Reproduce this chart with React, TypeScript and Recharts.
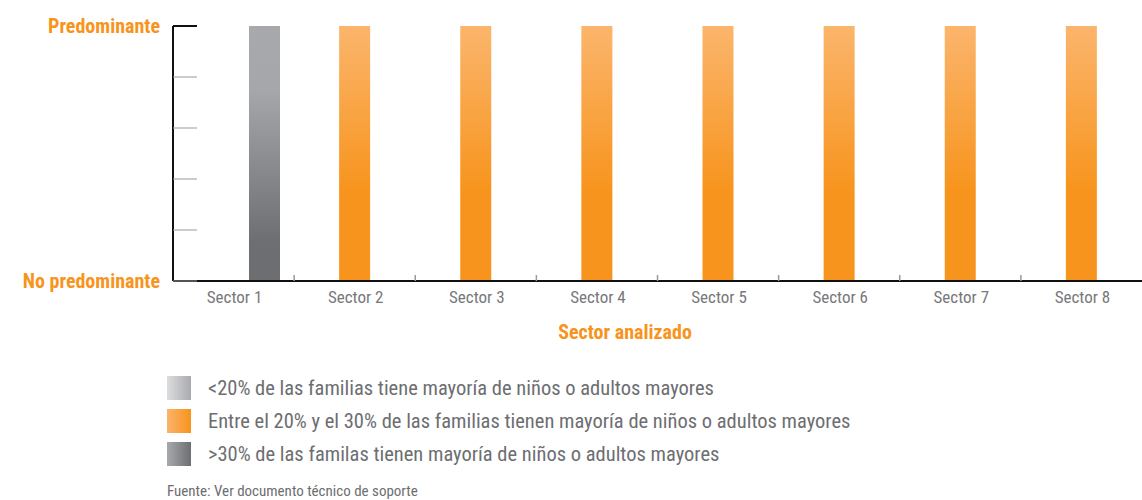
import { BarChart, Bar, XAxis, YAxis } from 'recharts';

const sectors = ['Sector 1', 'Sector 2', 'Sector 3', 'Sector 4', 'Sector 5', 'Sector 6', 'Sector 7', 'Sector 8'];
// 1 = predominante, 0 = no predominante
const bajo = [0, 0, 0, 0, 0, 0, 0, 0];
const medio = [0, 1, 1, 1, 1, 1, 1, 1];
const alto = [1, 0, 0, 0, 0, 0, 0, 0];
const yTicks = [0, 0.2, 0.4, 0.6, 0.8, 1];
const yTickLabels = ['No predominante', '', '', '', '', 'Predominante'];
const seriesNames = [
  '<20% de las familias tiene mayoría de niños o adultos mayores',
  'Entre el 20% y el 30% de las familias tienen mayoría de niños o adultos mayores',
  '>30% de las familas tienen mayoría de niños o adultos mayores',
];

const W = 1142;
const H = 500;
const LEFT = 173;
const TOP = 26;
const AXIS_Y = 281;
const BAND = (W - LEFT) / sectors.length;

const ORANGE = '#f7941d';
const GREY_TEXT = '#6d6e71';
const FONT = '"Liberation Sans Narrow", "Roboto Condensed", "Arial Narrow", Roboto, sans-serif';

const data = sectors.map((s, i) => ({ sector: s, bajo: bajo[i], medio: medio[i], alto: alto[i] }));

const swatches = [
  'linear-gradient(to right, #dcdddf, #a9abae)',
  'linear-gradient(to right, #fbb46b, #f7941d)',
  'linear-gradient(to right, #a7a9ac, #6d6e71)',
];

function YTick(props: any) {
  const { x, y, payload, index } = props;
  const ax = x + 13;
  const top = payload.value === 1;
  return (
    <g>
      <line x1={ax} x2={ax + 24} y1={y} y2={y} stroke={top ? '#111' : '#999'} strokeWidth={top ? 2 : 1} />
      <text x={x} y={y} textAnchor="end" dominantBaseline="central" fill={ORANGE}
        style={{ fontFamily: FONT, fontWeight: 700, fontSize: 20 }}>
        {yTickLabels[index]}
      </text>
    </g>
  );
}

function XTick(props: any) {
  const { x, y, payload, index } = props;
  const bx = x + BAND / 2;
  return (
    <g>
      {index < sectors.length - 1 && (
        <line x1={bx} x2={bx} y1={AXIS_Y - 6} y2={AXIS_Y} stroke="#999" strokeWidth={1.5} />
      )}
      <text x={x + 1} y={y + 16} textAnchor="middle" dominantBaseline="central" fill="#77787b"
        style={{ fontFamily: FONT, fontSize: 17 }}>
        {payload.value}
      </text>
    </g>
  );
}

export default function App() {
  return (
    <div style={{ position: 'absolute', left: 0, top: 0, width: W, height: H, background: '#fff', fontFamily: FONT }}>
      <BarChart width={W} height={H} data={data} barSize={31} barGap={0}
        margin={{ top: TOP, right: 0, left: 0, bottom: H - AXIS_Y - 30 }}>
        <defs>
          <linearGradient id="gOrange" x1="0" y1="0" x2="0" y2="1">
            <stop offset="0%" stopColor="#fbb56c" />
            <stop offset="65%" stopColor="#f7941d" />
            <stop offset="100%" stopColor="#f7941d" />
          </linearGradient>
          <linearGradient id="gDark" x1="0" y1="0" x2="0" y2="1">
            <stop offset="0%" stopColor="#a7a9ac" />
            <stop offset="25%" stopColor="#a5a7aa" />
            <stop offset="85%" stopColor="#6d6e71" />
            <stop offset="100%" stopColor="#6d6e71" />
          </linearGradient>
          <linearGradient id="gLight" x1="0" y1="0" x2="0" y2="1">
            <stop offset="0%" stopColor="#dcdddf" />
            <stop offset="100%" stopColor="#a9abae" />
          </linearGradient>
        </defs>
        <XAxis dataKey="sector" height={30} tickLine={false} tickSize={0} tickMargin={0}
          axisLine={{ stroke: '#111', strokeWidth: 2 }} tick={<XTick />} interval={0} />
        <YAxis width={LEFT} domain={[0, 1]} ticks={yTicks} tickLine={false} tickSize={0} tickMargin={13}
          axisLine={{ stroke: '#111', strokeWidth: 2 }} tick={<YTick />} interval={0} />
        <Bar dataKey="bajo" name={seriesNames[0]} fill="url(#gLight)" isAnimationActive={false} />
        <Bar dataKey="medio" name={seriesNames[1]} fill="url(#gOrange)" isAnimationActive={false} />
        <Bar dataKey="alto" name={seriesNames[2]} fill="url(#gDark)" isAnimationActive={false} />
      </BarChart>
      <div style={{ position: 'absolute', left: 0, top: 320, width: 1250, textAlign: 'center', color: ORANGE, fontWeight: 700, fontSize: 20 }}>
        Sector analizado
      </div>
      <div style={{ position: 'absolute', left: 167, top: 376 }}>
        {seriesNames.map((n, i) => (
          <div key={n} style={{ display: 'flex', alignItems: 'center', height: 24, marginBottom: 9 }}>
            <div style={{ width: 24, height: 24, background: swatches[i], marginRight: 17 }} />
            <span style={{ color: GREY_TEXT, fontSize: 20.5, whiteSpace: 'nowrap' }}>{n}</span>
          </div>
        ))}
      </div>
      <div style={{ position: 'absolute', left: 167, top: 482, color: GREY_TEXT, fontSize: 15 }}>
        Fuente: Ver documento técnico de soporte
      </div>
    </div>
  );
}
